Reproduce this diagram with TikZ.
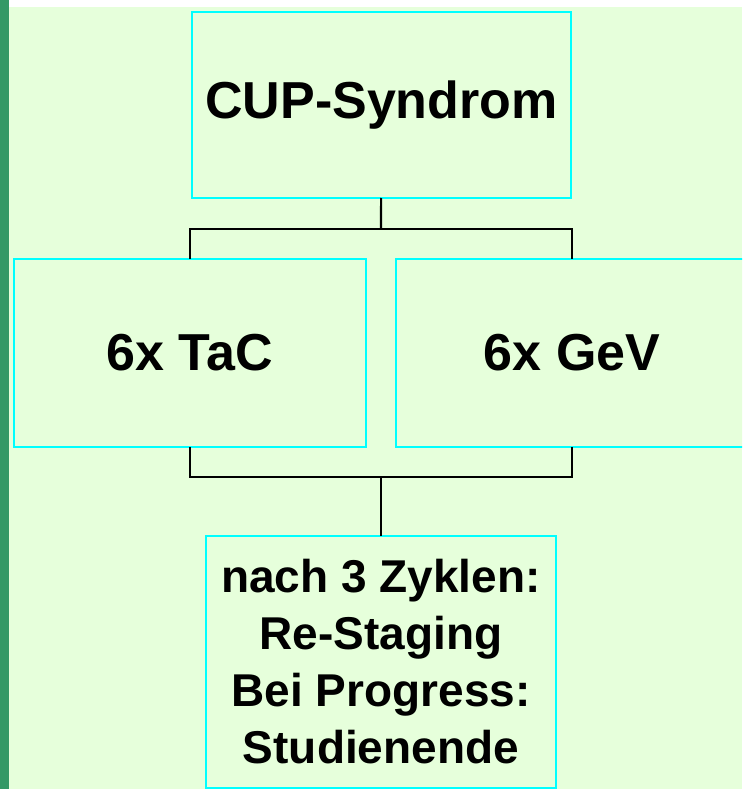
\documentclass[tikz,border=0pt]{standalone}
\usepackage{fontspec}
\setmainfont{Liberation Sans}
\usepackage{xcolor}
\usetikzlibrary{positioning}
\definecolor{bggreen}{RGB}{230,255,219}
\definecolor{stripgreen}{RGB}{51,153,102}
\definecolor{boxcyan}{RGB}{0,255,255}
\tikzset{
	every node/.style={align=center,outer sep=0pt,inner sep=0pt},
	box/.style={draw=boxcyan, line width=2.6pt, fill=bggreen, font=\bfseries\fontsize{52}{60}\selectfont},
	smallbox/.style={box, font=\bfseries\fontsize{46}{57}\selectfont},
	link/.style={draw=black, line width=2.2pt}
}

\begin{document}
\begin{tikzpicture}[x=1pt,y=-1pt]
	% Frame and background
	\useasboundingbox (0,0) rectangle (742,789);
	\clip (0,0) rectangle (742,789);
	\fill[bggreen] (0,0) rectangle (742,789);
	\fill[white] (0,0) rectangle (742,7);
	\fill[stripgreen] (0,0) rectangle (9,789);
	
	\node (cup) [box, minimum width=379pt, minimum height=186pt] at (381.5,105) {CUP-Syndrom};
	\node (tac) [box, minimum width=352pt, minimum height=188pt] at (190,353) {6x TaC};
	\node (gev) [box, minimum width=352pt, minimum height=188pt] at (572,353) {6x GeV};
	\node (ende) [smallbox, minimum width=350pt, minimum height=252pt] at (381,662)
		{nach 3 Zyklen:\\Re-Staging\\Bei Progress:\\Studienende};
	
	\coordinate (split) at (381,229);
	\coordinate (join) at (381,477);
	
	\path[link] (cup) -- (split);
	\path[link] (tac.north) |- (split) -| (gev.north);
	\path[link] (tac.south) |- (join) -| (gev.south);
	\path[link] (join) -- (ende);
\end{tikzpicture}
\end{document}
